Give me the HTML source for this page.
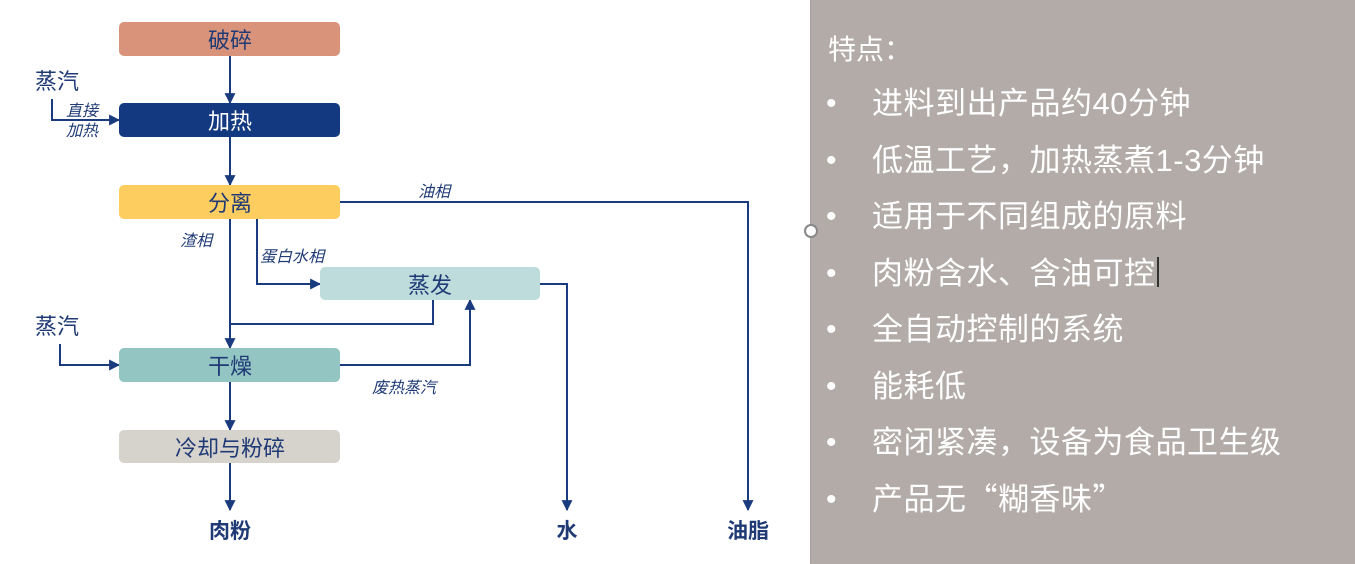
<!DOCTYPE html>
<html><head><meta charset="utf-8"><style>
html,body{margin:0;padding:0;background:#fff;}
svg{display:block;}
text{font-family:"Liberation Sans","Noto Sans CJK SC",sans-serif;}
.cjk{font-family:"Noto Sans CJK SC",sans-serif;}
</style></head><body>
<svg width="1355" height="564" viewBox="0 0 1355 564" xmlns="http://www.w3.org/2000/svg">
<defs>
<marker id="a" viewBox="0 0 10 10" refX="9" refY="5" markerWidth="11" markerHeight="11" markerUnits="userSpaceOnUse" orient="auto"><path d="M0,0L10,5L0,10z" fill="#1b3b7f"/></marker>
</defs>
<rect x="810" y="0" width="545" height="564" fill="#b3aba7"/>
<line x1="810.5" y1="0" x2="810.5" y2="564" stroke="#999" stroke-dasharray="1,1"/>
<circle cx="811" cy="231" r="6" fill="#fff" stroke="#888" stroke-width="2"/>
<g fill="#fff">
<text x="828" y="59" font-size="28">特点：</text>
<g font-size="31" letter-spacing="0.5">
<text x="872" y="114">进料到出产品约40分钟</text>
<text x="872" y="171">低温工艺，加热蒸煮1-3分钟</text>
<text x="872" y="227">适用于不同组成的原料</text>
<text x="872" y="284">肉粉含水、含油可控</text>
<text x="872" y="340">全自动控制的系统</text>
<text x="872" y="397">能耗低</text>
<text x="872" y="453">密闭紧凑，设备为食品卫生级</text>
<text x="872" y="510">产品无<tspan class="cjk">“</tspan>糊香味<tspan class="cjk">”</tspan></text>
</g>
<g font-size="30"><text x="826" y="113">•</text><text x="826" y="170">•</text><text x="826" y="226">•</text><text x="826" y="283">•</text><text x="826" y="339">•</text><text x="826" y="396">•</text><text x="826" y="452">•</text><text x="826" y="509">•</text></g>
</g>
<rect x="1157" y="257" width="2" height="30" fill="#333"/>

<g stroke="#1b3b7f" stroke-width="2" fill="none">
<line x1="230" y1="56" x2="230" y2="103" marker-end="url(#a)"/>
<line x1="230" y1="137" x2="230" y2="185" marker-end="url(#a)"/>
<polyline points="52,99 52,120 119,120" marker-end="url(#a)"/>
<polyline points="340,202 748,202 748,510" marker-end="url(#a)"/>
<polyline points="257,219 257,284 320,284" marker-end="url(#a)"/>
<line x1="230" y1="219" x2="230" y2="348" marker-end="url(#a)"/>
<polyline points="433,300 433,324 230,324"/>
<polyline points="540,284 567,284 567,510" marker-end="url(#a)"/>
<polyline points="340,365 470,365 470,300" marker-end="url(#a)"/>
<polyline points="60,344 60,365 119,365" marker-end="url(#a)"/>
<line x1="230" y1="382" x2="230" y2="430" marker-end="url(#a)"/>
<line x1="230" y1="463" x2="230" y2="510" marker-end="url(#a)"/>
</g>

<rect x="119" y="22" width="221" height="34" rx="5" fill="#d9937a"/>
<rect x="119" y="103" width="221" height="34" rx="5" fill="#133a80"/>
<rect x="119" y="185" width="221" height="34" rx="5" fill="#fdcd5f"/>
<rect x="320" y="267" width="220" height="33" rx="5" fill="#bedcdc"/>
<rect x="119" y="348" width="221" height="34" rx="5" fill="#93c5c3"/>
<rect x="119" y="430" width="221" height="33" rx="5" fill="#d6d2cc"/>

<g font-size="22" fill="#1f3a75" text-anchor="middle">
<text x="230" y="48">破碎</text>
<text x="230" y="129" fill="#fff">加热</text>
<text x="230" y="211">分离</text>
<text x="430" y="293">蒸发</text>
<text x="230" y="374">干燥</text>
<text x="230" y="456">冷却与粉碎</text>
<g font-weight="bold" font-size="21"><text x="230" y="538">肉粉</text><text x="567" y="538">水</text><text x="748" y="538">油脂</text></g>
</g>
<g font-size="22" fill="#1f3a75"><text x="35" y="89">蒸汽</text><text x="35" y="334">蒸汽</text></g>
<g font-size="16" fill="#1f3a75" font-style="italic">
<text x="66" y="116">直接</text><text x="66" y="136">加热</text>
<text x="418" y="197">油相</text>
<text x="180" y="246">渣相</text>
<text x="260" y="262">蛋白水相</text>
<text x="372" y="393">废热蒸汽</text>
</g>
</svg>
</body></html>
